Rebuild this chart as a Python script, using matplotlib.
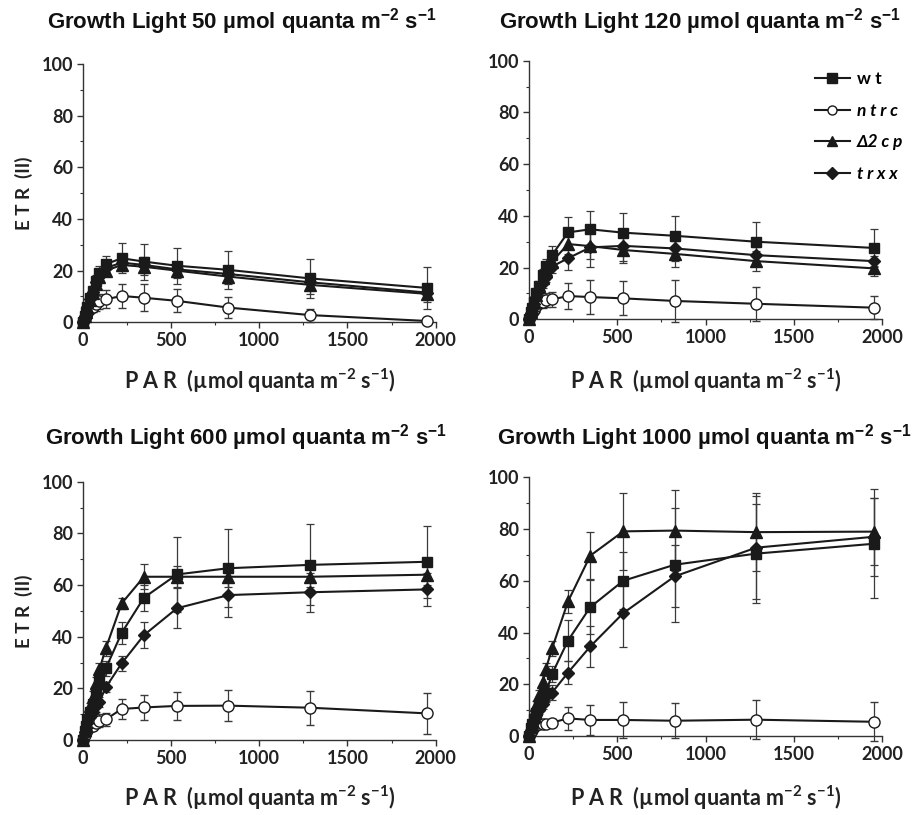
import matplotlib
matplotlib.use("Agg")
import matplotlib.pyplot as plt
from matplotlib.ticker import MultipleLocator
from matplotlib.lines import Line2D

plt.rcParams['font.family'] = ['Lato', 'DejaVu Sans']
plt.rcParams['mathtext.default'] = 'regular'

# ---------------- data ----------------
PAR = [0, 11, 18, 27, 42, 56, 77, 95, 131, 221, 347, 534, 825, 1287, 1952]

growth_titles = ["50", "120", "600", "1000"]
series_names = ["wt", "ntrc", "Δ2cp", "trxx"]

# Growth light 50
wt_50 = [0, 2.5, 4, 6, 9.5, 12, 16, 19, 22.5, 24.8, 23.5, 21.9, 20.3, 17, 13.3]
wt_50_err = [0, 0.5, 0.7, 1, 1.5, 2, 2.5, 2.8, 3, 5.8, 7, 7, 7.4, 7.5, 8]
ntrc_50 = [0, 1.5, 2.5, 3.5, 5, 5.8, 7, 8.1, 8.9, 10.2, 9.5, 8.3, 5.7, 2.8, 0.5]
ntrc_50_err = [0, 0.5, 0.8, 1, 1.5, 2, 2.5, 3, 3.5, 4.5, 5.2, 4.5, 4.2, 2.5, 0.8]
cp_50 = [0, 2.4, 3.8, 5.8, 8.8, 11.5, 15, 17.5, 20, 22.2, 21.5, 20, 17.7, 14.5, 11]
cp_50_err = [0, 0.5, 0.7, 1, 1.3, 1.5, 2, 2, 2.2, 2.5, 3, 3, 3, 3.5, 3]
trxx_50 = [0, 2.4, 3.9, 5.9, 8.9, 11.8, 15.5, 18, 21, 23.1, 22.2, 20.5, 18.7, 15.5, 11.5]
trxx_50_err = [0, 0.5, 0.7, 1, 1.3, 1.5, 2, 2, 2.2, 2.5, 3, 3, 3, 3, 2.5]

# Growth light 120
wt_120 = [0, 3, 4.5, 6.5, 10, 13, 17, 20.5, 24.9, 33.6, 34.8, 33.5, 32.3, 30, 27.6]
wt_120_err = [0, 0.5, 0.8, 1, 1.5, 2, 2.5, 3, 3.5, 6, 7.2, 7.5, 7.5, 7.8, 7.5]
ntrc_120 = [0, 1.5, 2.5, 3.5, 5, 6.2, 6.8, 7.5, 7.7, 9, 8.6, 8.1, 7.1, 6, 4.5]
ntrc_120_err = [0, 0.5, 1, 1.5, 2, 2, 2.5, 2.8, 3, 5, 6.5, 6.6, 8, 6.5, 4.5]
cp_120 = [0, 3, 4.5, 6.5, 9.5, 12.5, 16, 19, 22.3, 29.1, 28.3, 26.8, 25.3, 22.5, 19.7]
cp_120_err = [0, 0.5, 0.8, 1, 1.5, 2, 2.2, 2.5, 3, 4, 5, 5.2, 5, 4, 3]
trxx_120 = [0, 2.5, 4, 6, 8.5, 11, 14, 16.5, 20.4, 23.6, 27.8, 28.4, 27.4, 24.8, 22.5]
trxx_120_err = [0, 0.5, 0.7, 1, 1.3, 1.5, 2, 2, 2.5, 4.5, 7.5, 6, 5, 3, 2]

# Growth light 600
wt_600 = [0, 3.5, 5.5, 8, 11, 14, 18.5, 23, 27.7, 41.5, 55.1, 64.1, 66.5, 67.8, 69]
wt_600_err = [0, 0.5, 1, 1.2, 1.5, 2, 2.5, 3, 3, 4.2, 5, 14.6, 15.2, 15.7, 14]
ntrc_600 = [0, 2, 3, 4, 5, 5.4, 6.5, 7.4, 8, 12, 12.6, 13.2, 13.3, 12.5, 10.3]
ntrc_600_err = [0, 0.5, 0.8, 1, 1.2, 1.5, 2, 2.5, 2.5, 3.7, 4.8, 5.3, 6, 6.5, 8]
cp_600 = [0, 4, 6, 9, 13, 16.8, 22, 27.4, 35.5, 52.9, 63.2, 63.2, 63.2, 63.2, 64]
cp_600_err = [0, 0.5, 0.8, 1, 1.5, 2, 2.2, 2.5, 3, 2, 4.8, 4, 4, 4, 4]
trxx_600 = [0, 3, 4.5, 6.5, 9, 11, 13, 14.8, 20.4, 29.7, 40.6, 51, 56.1, 57.2, 58.3]
trxx_600_err = [0, 0.5, 0.7, 1, 1.2, 1.5, 2, 2, 2, 3, 5, 7.8, 8.4, 7.5, 6.5]

# Growth light 1000
wt_1000 = [0, 3, 4.5, 6.5, 9, 12, 15, 16.5, 24, 36.9, 49.8, 60, 66.2, 70.5, 74.3]
wt_1000_err = [0, 0.5, 0.8, 1, 1.5, 2, 2.5, 3, 3, 8, 10.5, 11, 22, 19, 21]
ntrc_1000 = [0, 1.5, 2.5, 3.5, 4.2, 4.5, 4.6, 4.6, 5.2, 6.8, 6.2, 6.2, 5.9, 6.3, 5.5]
ntrc_1000_err = [0, 0.5, 0.8, 1, 1.2, 1.5, 1.5, 1.5, 1.5, 4.6, 5.8, 7, 6.7, 7.5, 7.5]
cp_1000 = [0, 3.5, 5.5, 8, 12, 15.9, 21, 25.8, 33.9, 52, 69.7, 79.1, 79.4, 78.8, 79]
cp_1000_err = [0, 0.5, 0.8, 1, 1.5, 2, 2.5, 2.5, 3, 4.3, 9, 15, 15.6, 15, 13]
trxx_1000 = [0, 2.5, 4, 5.5, 8, 10, 12.5, 15.5, 16.8, 24.5, 34.6, 47.5, 61.7, 72.8, 77]
trxx_1000_err = [0, 0.5, 0.7, 1, 1.2, 1.5, 2, 2.5, 3, 4.5, 8, 13, 12, 20, 15]

panels = [
    [(wt_50, wt_50_err), (ntrc_50, ntrc_50_err), (cp_50, cp_50_err), (trxx_50, trxx_50_err)],
    [(wt_120, wt_120_err), (ntrc_120, ntrc_120_err), (cp_120, cp_120_err), (trxx_120, trxx_120_err)],
    [(wt_600, wt_600_err), (ntrc_600, ntrc_600_err), (cp_600, cp_600_err), (trxx_600, trxx_600_err)],
    [(wt_1000, wt_1000_err), (ntrc_1000, ntrc_1000_err), (cp_1000, cp_1000_err), (trxx_1000, trxx_1000_err)],
]

# ---------------- styles ----------------
styles = [
    dict(marker='s', ms=7, mfc='#1a1a1a', mec='#1a1a1a'),
    dict(marker='o', ms=8, mfc='white', mec='#1a1a1a', mew=1.0),
    dict(marker='^', ms=8, mfc='#1a1a1a', mec='#1a1a1a'),
    dict(marker='D', ms=6.5, mfc='#1a1a1a', mec='#1a1a1a'),
]

W, H = 917, 815
fig = plt.figure(figsize=(W / 100, H / 100), dpi=100)

# axes rectangles in pixel coordinates: left, top, right, bottom
rects = [(82.7, 64.0, 435.7, 322.3), (529.0, 60.7, 882.0, 319.3),
         (82.7, 481.7, 435.7, 740.0), (529.0, 477.3, 882.0, 736.0)]
title_pos = [(242, 22), (700, 22), (246, 438), (704, 438)]
xlabel_pos = [(260, 381), (706, 381), (260, 798), (706, 798)]

axes = []
for i, (l, t, r, b) in enumerate(rects):
    ax = fig.add_axes([l / W, 1 - b / H, (r - l) / W, (b - t) / H])
    axes.append(ax)
    for (y, e), st in zip(panels[i], styles):
        ax.errorbar(PAR, y, yerr=e, color='#1a1a1a', lw=1.5, ecolor='#3a3a3a',
                    elinewidth=0.9, capsize=3, capthick=0.9, zorder=3, clip_on=False, **st)
    ax.set_xlim(0, 2000)
    ax.set_ylim(0, 100)
    ax.xaxis.set_major_locator(MultipleLocator(500))
    ax.xaxis.set_minor_locator(MultipleLocator(250))
    ax.yaxis.set_major_locator(MultipleLocator(20))
    ax.yaxis.set_minor_locator(MultipleLocator(10))
    for s in ['top', 'right']:
        ax.spines[s].set_visible(False)
    for s in ['left', 'bottom']:
        ax.spines[s].set_linewidth(1.0)
        ax.spines[s].set_color('#333333')
    ax.tick_params(which='major', direction='out', length=4, width=1, color='#333333', pad=3)
    ax.tick_params(which='minor', direction='out', length=2.5, width=0.8, color='#333333')
    for lab in ax.get_xticklabels() + ax.get_yticklabels():
        lab.set_fontfamily(['Lato', 'DejaVu Sans'])
        lab.set_fontweight('bold')
        lab.set_fontsize(13)
        lab.set_color('#222222')

    tx, ty = title_pos[i]
    fig.text(tx / W, 1 - ty / H,
             "Growth Light " + growth_titles[i] + r" µmol quanta m$^{-2}$ s$^{-1}$",
             ha='center', va='center', fontsize=16, fontweight='bold',
             family=['Liberation Sans', 'DejaVu Sans'], color='#111111')
    lx, ly = xlabel_pos[i]
    fig.text(lx / W, 1 - ly / H, r"P A R  (µmol quanta m$^{-2}$ s$^{-1}$)",
             ha='center', va='center', fontsize=15.5, fontweight='bold',
             family=['Lato', 'DejaVu Sans'], color='#222222')

for ax in (axes[0], axes[2]):
    ax.set_ylabel("E T R  (II)", fontsize=13.5, fontweight='bold',
                  family=['Lato', 'DejaVu Sans'], color='#222222', labelpad=6)

# legend in panel 2
handles = []
for st in styles:
    handles.append(Line2D([], [], color='#1a1a1a', lw=1.5, **st))
labels = ["w t", "n t r c", "Δ2 c p", "t r x x"]
leg = axes[1].legend(handles, labels, loc='upper left',
                     bbox_to_anchor=(815 / W, 1 - 71 / H), bbox_transform=fig.transFigure,
                     frameon=False, handlelength=2.0, handletextpad=0.4,
                     labelspacing=0.9, borderaxespad=0, borderpad=0,
                     prop=dict(family=['Lato', 'DejaVu Sans'], weight='bold', size=12.5))
for lh in leg.legend_handles:
    lh.set_markersize(6.5)
for k, txt in enumerate(leg.get_texts()):
    if k > 0:
        txt.set_fontstyle('italic')

fig.savefig("out.png", dpi=100)
